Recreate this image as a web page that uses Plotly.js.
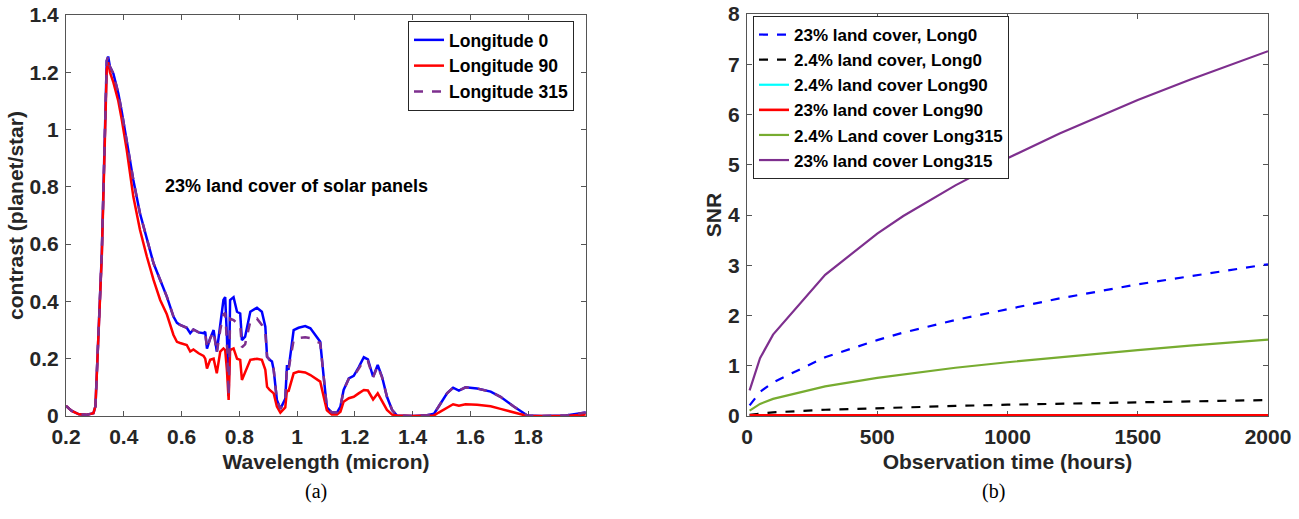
<!DOCTYPE html>
<html>
<head>
<meta charset="utf-8">
<script src="https://cdn.plot.ly/plotly-3.0.1.min.js"></script>
<style>html,body{margin:0;padding:0;background:#fff;}#chart{width:1299px;height:519px;}</style>
</head>
<body>
<div id="chart"></div>
<script>
// ---- Panel (a): contrast spectra ----
const wavelength = [0.200,0.220,0.245,0.270,0.295,0.302,0.324,0.341,0.346,0.352,0.364,0.381,0.393,0.410,0.433,0.456,0.480,0.503,0.526,0.549,0.572,0.584,0.595,0.618,0.630,0.641,0.659,0.676,0.682,0.688,0.699,0.711,0.722,0.734,0.745,0.751,0.757,0.763,0.768,0.780,0.792,0.803,0.809,0.820,0.838,0.861,0.878,0.890,0.896,0.905,0.913,0.919,0.930,0.942,0.959,0.965,0.970,0.988,1.005,1.028,1.046,1.063,1.080,1.092,1.103,1.120,1.138,1.150,1.161,1.179,1.196,1.213,1.231,1.245,1.254,1.263,1.279,1.294,1.311,1.329,1.345,1.400,1.450,1.474,1.490,1.519,1.540,1.560,1.583,1.623,1.670,1.704,1.750,1.797,1.850,1.930,1.999];
const long0 = [0.035,0.018,0.006,0.004,0.010,0.035,0.57,1.24,1.255,1.22,1.195,1.127,1.062,0.964,0.824,0.708,0.615,0.533,0.475,0.417,0.347,0.325,0.318,0.308,0.289,0.302,0.292,0.289,0.294,0.235,0.271,0.30,0.225,0.324,0.405,0.415,0.28,0.07,0.405,0.415,0.364,0.358,0.265,0.277,0.364,0.378,0.364,0.312,0.207,0.196,0.19,0.161,0.056,0.025,0.06,0.178,0.161,0.30,0.308,0.314,0.306,0.283,0.259,0.137,0.03,0.012,0.012,0.033,0.091,0.131,0.14,0.17,0.205,0.198,0.166,0.137,0.178,0.137,0.067,0.021,0.002,0.0,0.003,0.008,0.033,0.079,0.099,0.089,0.10,0.096,0.085,0.067,0.033,0.002,0.0,0.002,0.012];
const long90 = [0.035,0.018,0.006,0.004,0.010,0.035,0.56,1.21,1.235,1.20,1.165,1.10,1.035,0.93,0.766,0.65,0.556,0.475,0.405,0.355,0.283,0.259,0.255,0.248,0.225,0.232,0.219,0.21,0.20,0.166,0.196,0.20,0.149,0.225,0.236,0.23,0.161,0.056,0.23,0.236,0.20,0.196,0.126,0.155,0.196,0.20,0.196,0.161,0.102,0.091,0.085,0.079,0.033,0.012,0.03,0.091,0.085,0.149,0.155,0.152,0.143,0.133,0.12,0.067,0.02,0.005,0.005,0.015,0.05,0.062,0.067,0.079,0.091,0.089,0.075,0.058,0.079,0.053,0.021,0.005,0.002,0.0,0.001,0.002,0.012,0.03,0.041,0.036,0.041,0.039,0.034,0.025,0.012,0.0,0.0,0.0,0.005];
const long315 = [0.035,0.018,0.006,0.004,0.010,0.035,0.57,1.24,1.255,1.22,1.195,1.127,1.062,0.964,0.824,0.708,0.615,0.533,0.475,0.417,0.347,0.325,0.318,0.308,0.289,0.302,0.292,0.289,0.29,0.235,0.27,0.295,0.22,0.30,0.355,0.36,0.26,0.07,0.34,0.335,0.324,0.318,0.24,0.25,0.33,0.34,0.318,0.29,0.207,0.196,0.19,0.161,0.056,0.025,0.06,0.17,0.16,0.265,0.272,0.275,0.272,0.26,0.255,0.137,0.03,0.012,0.012,0.033,0.09,0.13,0.138,0.165,0.195,0.192,0.16,0.135,0.175,0.135,0.067,0.021,0.002,0.0,0.003,0.008,0.033,0.079,0.099,0.089,0.10,0.096,0.085,0.067,0.033,0.002,0.0,0.002,0.012];
const xTicksA = [0.2,0.4,0.6,0.8,1.0,1.2,1.4,1.6,1.8];
const xTickTextA = ["0.2","0.4","0.6","0.8","1","1.2","1.4","1.6","1.8"];
const yTicksA = [0,0.2,0.4,0.6,0.8,1.0,1.2,1.4];
const yTickTextA = ["0","0.2","0.4","0.6","0.8","1","1.2","1.4"];

// ---- Panel (b): SNR vs observation time ----
const hours = [10,50,100,300,500,600,800,1000,1200,1500,1700,2000];
const snr23Long0 = [0.21,0.48,0.67,1.17,1.51,1.66,1.91,2.13,2.34,2.62,2.78,3.02];
const snr24Long0 = [0.023,0.05,0.072,0.124,0.16,0.175,0.20,0.225,0.246,0.276,0.293,0.318];
const snr24Long90 = [0.012,0.012,0.012,0.012,0.012,0.012,0.012,0.012,0.012,0.012,0.012,0.012];
const snr23Long90 = [0.015,0.015,0.015,0.015,0.015,0.015,0.015,0.015,0.015,0.015,0.015,0.015];
const snr24Long315 = [0.107,0.24,0.34,0.59,0.76,0.83,0.96,1.07,1.17,1.31,1.40,1.52];
const snr23Long315 = [0.51,1.15,1.62,2.81,3.63,3.98,4.59,5.13,5.62,6.29,6.69,7.26];
const xTicksB = [0,500,1000,1500,2000];
const yTicksB = [0,1,2,3,4,5,6,7,8];

const FONT = "Liberation Sans, Arial, Helvetica, sans-serif";
const INK = "#262626";
const W = 1299, H = 519;
const px = v => v / W;
const py = v => 1 - v / H;

const traces = [
  {x: wavelength, y: long0, name: "<b>Longitude 0</b>", mode: "lines", line: {color: "#0000ff", width: 2.5}, xaxis: "x", yaxis: "y", legend: "legend"},
  {x: wavelength, y: long90, name: "<b>Longitude 90</b>", mode: "lines", line: {color: "#ff0000", width: 2.5}, xaxis: "x", yaxis: "y", legend: "legend"},
  {x: wavelength, y: long315, name: "<b>Longitude 315</b>", mode: "lines", line: {color: "#7E2F8E", width: 2.5, dash: "dash"}, xaxis: "x", yaxis: "y", legend: "legend"},
  {x: hours, y: snr23Long0, name: "<b>23% land cover, Long0</b>", mode: "lines", line: {color: "#0000ff", width: 2.2, dash: "dash"}, xaxis: "x2", yaxis: "y2", legend: "legend2"},
  {x: hours, y: snr24Long0, name: "<b>2.4% land cover, Long0</b>", mode: "lines", line: {color: "#000000", width: 2.2, dash: "dash"}, xaxis: "x2", yaxis: "y2", legend: "legend2"},
  {x: hours, y: snr24Long90, name: "<b>2.4% land cover Long90</b>", mode: "lines", line: {color: "#00ffff", width: 2.2}, xaxis: "x2", yaxis: "y2", legend: "legend2"},
  {x: hours, y: snr23Long90, name: "<b>23% land cover Long90</b>", mode: "lines", line: {color: "#ff0000", width: 2.6}, xaxis: "x2", yaxis: "y2", legend: "legend2"},
  {x: hours, y: snr24Long315, name: "<b>2.4% Land cover Long315</b>", mode: "lines", line: {color: "#77AC30", width: 2.2}, xaxis: "x2", yaxis: "y2", legend: "legend2"},
  {x: hours, y: snr23Long315, name: "<b>23% land cover Long315</b>", mode: "lines", line: {color: "#7E2F8E", width: 2.2}, xaxis: "x2", yaxis: "y2", legend: "legend2"}
];

const axisCommon = {
  showline: true, linecolor: "#555555", linewidth: 1, mirror: "ticks",
  ticks: "inside", ticklen: 5, tickcolor: "#555555", tickwidth: 1,
  showgrid: false, zeroline: false, layer: "below traces",
  tickfont: {family: FONT, size: 21, color: INK, weight: "bold"}
};
const titleFont = {family: FONT, size: 21, color: INK};

const layout = {
  width: W, height: H,
  margin: {l: 0, r: 0, t: 0, b: 0},
  paper_bgcolor: "#ffffff", plot_bgcolor: "#ffffff",
  showlegend: true,
  font: {family: FONT, color: INK},
  xaxis: Object.assign({}, axisCommon, {
    domain: [px(66), px(586)], anchor: "y", range: [0.2, 2.0],
    tickvals: xTicksA, ticktext: xTickTextA, ticklabelstandoff: 2,
    title: {text: "<b>Wavelength (micron)</b>", font: titleFont, standoff: 7}
  }),
  yaxis: Object.assign({}, axisCommon, {
    domain: [py(416), py(15)], anchor: "x", range: [0, 1.4],
    tickvals: yTicksA, ticktext: yTickTextA, ticklabelstandoff: 2,
    title: {text: "<b>contrast (planet/star)</b>", font: titleFont, standoff: 0}
  }),
  xaxis2: Object.assign({}, axisCommon, {
    domain: [px(747), px(1268)], anchor: "y2", range: [0, 2000],
    tickvals: xTicksB, ticklabelstandoff: 2,
    title: {text: "<b>Observation time (hours)</b>", font: titleFont, standoff: 7}
  }),
  yaxis2: Object.assign({}, axisCommon, {
    domain: [py(416), py(14)], anchor: "x2", range: [0, 8],
    tickvals: yTicksB, ticklabelstandoff: 2,
    title: {text: "<b>SNR</b>", font: titleFont, standoff: 0}
  }),
  legend: {
    x: px(408), y: py(21), xanchor: "left", yanchor: "top",
    bgcolor: "#ffffff", bordercolor: INK, borderwidth: 1,
    font: {family: FONT, size: 17.5, color: "#000000"},
    tracegroupgap: 0, itemwidth: 30
  },
  legend2: {
    x: px(753), y: py(16), xanchor: "left", yanchor: "top",
    bgcolor: "#ffffff", bordercolor: INK, borderwidth: 1,
    font: {family: FONT, size: 17, color: "#000000"},
    tracegroupgap: 0, itemwidth: 30
  },
  annotations: [
    {text: "<b>23% land cover of solar panels</b>", x: px(296), y: py(186), xref: "paper", yref: "paper",
     showarrow: false, font: {family: FONT, size: 18, color: "#000000"}, xanchor: "center", yanchor: "middle"},
    {text: "(a)", x: px(316), y: py(491), xref: "paper", yref: "paper", showarrow: false,
     font: {family: "Liberation Serif, DejaVu Serif, serif", size: 20, color: "#000000"}, xanchor: "center", yanchor: "middle"},
    {text: "(b)", x: px(993), y: py(491), xref: "paper", yref: "paper", showarrow: false,
     font: {family: "Liberation Serif, DejaVu Serif, serif", size: 20, color: "#000000"}, xanchor: "center", yanchor: "middle"}
  ]
};

Plotly.newPlot("chart", traces, layout, {displayModeBar: false, staticPlot: true});
</script>
</body>
</html>
